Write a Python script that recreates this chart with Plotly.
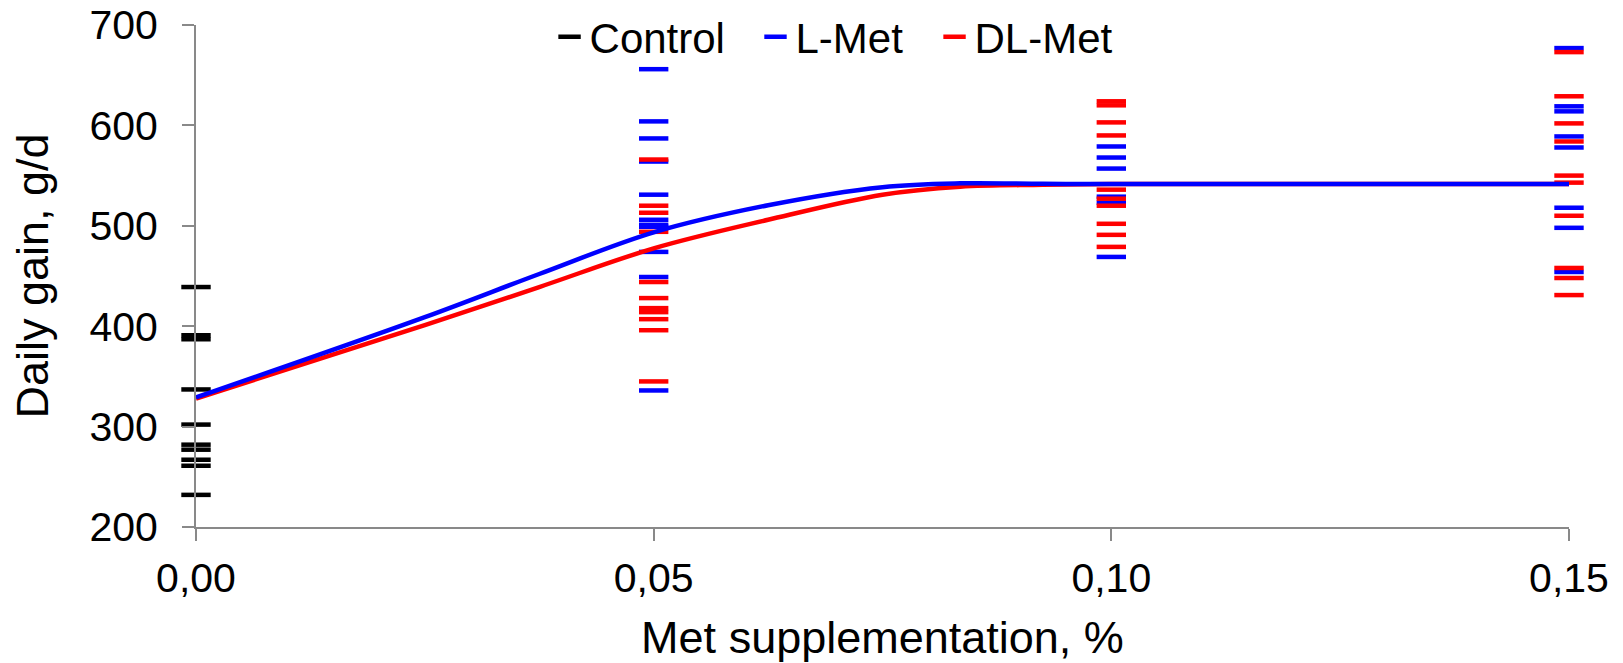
import plotly.graph_objects as go

# ---- data ----
control_dose = 0.0
control_gain = [439, 391, 387, 337, 302, 282, 277, 267, 261, 232]

lmet_doses = [0.05, 0.10, 0.15]
lmet_gain_005 = [656, 604, 587, 564, 531, 506, 501, 499, 474, 449, 336]
lmet_gain_010 = [579, 568, 557, 529, 523, 469]
lmet_gain_015 = [677, 619, 614, 589, 578, 518, 498, 454]

dlmet_doses = [0.05, 0.10, 0.15]
dlmet_gain_005 = [566, 520, 513, 494, 444, 428, 418, 414, 407, 396, 345]
dlmet_gain_010 = [624, 620, 603, 590, 536, 527, 520, 502, 491, 479]
dlmet_gain_015 = [673, 629, 602, 584, 550, 543, 510, 458, 448, 431]

# fitted response curves
curve_x = [0, 0.025, 0.0375, 0.05, 0.0625, 0.075, 0.0835, 0.0925, 0.10, 0.15]
lmet_curve = [329, 409, 452, 493.5, 520.5, 538.5, 542.3, 541.8, 541.6, 541.6]
dlmet_curve = [328, 401, 439, 477.5, 506, 531, 539, 540.8, 541.6, 541.6]

x_ticks = [0, 0.05, 0.10, 0.15]
x_ticktext = ["0,00", "0,05", "0,10", "0,15"]
y_ticks = [200, 300, 400, 500, 600, 700]

# ---- build ----
def group(doses, groups):
    xs, ys = [], []
    for d, g in zip(doses, groups):
        xs += [d] * len(g)
        ys += list(g)
    return xs, ys

lx, ly = group(lmet_doses, [lmet_gain_005, lmet_gain_010, lmet_gain_015])
dx, dy = group(dlmet_doses, [dlmet_gain_005, dlmet_gain_010, dlmet_gain_015])

FONT = "Liberation Sans, Arial, sans-serif"
AX = "#898989"

def mk(color):
    return dict(symbol="line-ew", size=21, color=color, line=dict(color=color, width=4.5))

fig = go.Figure()
fig.add_trace(go.Scatter(x=[control_dose] * len(control_gain), y=control_gain, mode="markers",
                         name="Control", marker=mk("#000000"), cliponaxis=False, legend="legend"))
fig.add_trace(go.Scatter(x=lx, y=ly, mode="markers", name="L-Met", marker=mk("#0000FF"),
                         cliponaxis=False, legend="legend2"))
fig.add_trace(go.Scatter(x=dx, y=dy, mode="markers", name="DL-Met", marker=mk("#FF0000"),
                         cliponaxis=False, legend="legend3"))
fig.add_trace(go.Scatter(x=curve_x, y=dlmet_curve, mode="lines",
                         line=dict(color="#FF0000", width=4.5, shape="spline", smoothing=1),
                         showlegend=False, hoverinfo="skip"))
fig.add_trace(go.Scatter(x=curve_x, y=lmet_curve, mode="lines",
                         line=dict(color="#0000FF", width=4.5, shape="spline", smoothing=1),
                         showlegend=False, hoverinfo="skip"))

def leg(x):
    return dict(orientation="h", x=x, xanchor="left", y=0.976, yanchor="middle",
                font=dict(size=42, family=FONT, color="black"), bgcolor="rgba(0,0,0,0)",
                itemwidth=30, borderwidth=0)

fig.update_layout(
    width=1623, height=663,
    margin=dict(l=196, r=54, t=25, b=136, autoexpand=False),
    paper_bgcolor="white", plot_bgcolor="white",
    font=dict(family=FONT, color="black", size=41),
    showlegend=True,
    legend=leg(0.2575), legend2=leg(0.4075), legend3=leg(0.5379),
    xaxis=dict(range=[0, 0.15], tickvals=x_ticks, ticktext=x_ticktext, automargin=False,
               showline=True, linecolor=AX, linewidth=2, ticks="outside", ticklen=12,
               tickwidth=2, tickcolor=AX, showgrid=False, zeroline=False,
               tickfont=dict(size=41, family=FONT), ticklabelstandoff=2,
               ticklabeloverflow="allow",
               title=dict(text="Met supplementation, %", font=dict(size=45, family=FONT), standoff=21)),
    yaxis=dict(range=[200, 700], tickvals=y_ticks, automargin=False,
               showline=True, linecolor=AX, linewidth=2, ticks="outside", ticklen=12,
               tickwidth=2, tickcolor=AX, showgrid=False, zeroline=False,
               tickfont=dict(size=41, family=FONT), ticklabelstandoff=16,
               ticklabeloverflow="allow",
               title=dict(text="Daily gain, g/d", font=dict(size=45, family=FONT), standoff=27)),
)

# remove the default 8px page margin so the figure fills the window exactly
fig.write_html("out.html", config={"displayModeBar": False},
               post_script="document.body.style.margin='0px';")
